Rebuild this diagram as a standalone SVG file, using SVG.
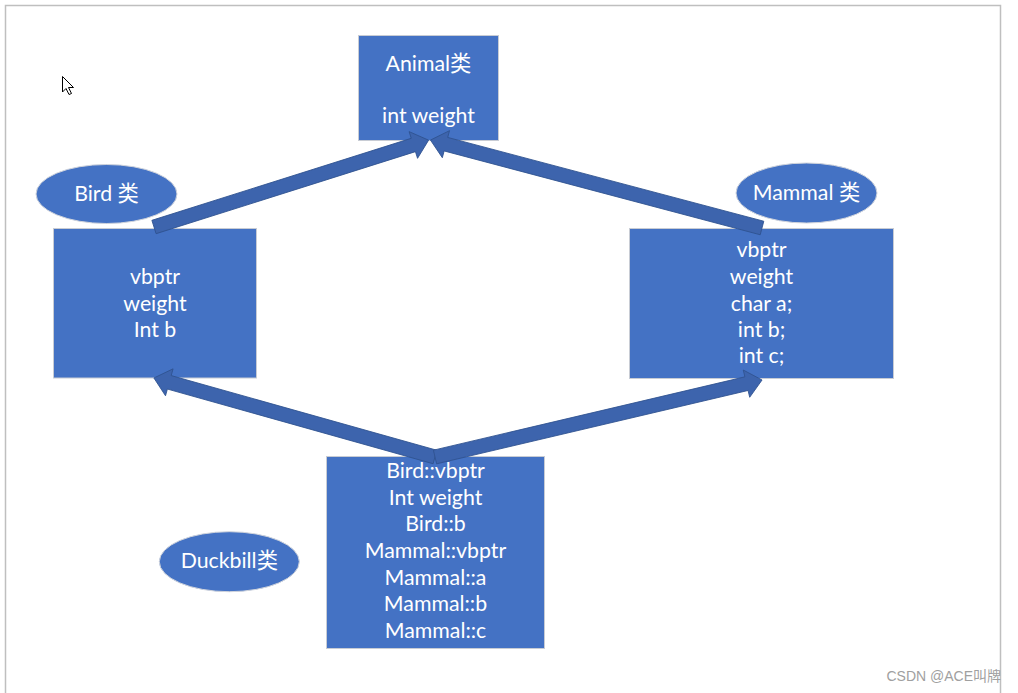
<svg xmlns="http://www.w3.org/2000/svg" width="1018" height="693" viewBox="0 0 1018 693">
<style>
.box{fill:#4472C4;stroke:#C8CCD4;stroke-width:1}
.ell{fill:#4472C4;stroke:#D0D4DC;stroke-width:1}
.t{font-family:Lato,"Noto Sans CJK SC",sans-serif;font-size:21.3px;fill:#FFFFFF;text-anchor:middle}
.arr{fill:#3D64AD;stroke:#2F528F;stroke-width:0.8}
</style>
<rect x="0" y="0" width="1018" height="693" fill="#FFFFFF"/>
<rect x="5.5" y="5.5" width="995" height="700" fill="none" stroke="#BFBFBF" stroke-width="1.5"/>
<g id="animal">
<rect class="box" x="358.5" y="35.5" width="140" height="105"/>
<text class="t" x="428.5" y="71">Animal类</text>
<text class="t" x="428.5" y="123">int weight</text>
</g>
<g id="bird-label">
<ellipse class="ell" cx="106.5" cy="194" rx="70.5" ry="29.5"/>
<text class="t" x="106.5" y="201">Bird 类</text>
</g>
<g id="bird">
<rect class="box" x="53.5" y="228.5" width="203" height="149.5"/>
<text class="t" x="155" y="284">vbptr</text>
<text class="t" x="155" y="310.7">weight</text>
<text class="t" x="155" y="337.4">Int b</text>
</g>
<g id="mammal-label">
<ellipse class="ell" cx="806.5" cy="193" rx="70.5" ry="30"/>
<text class="t" x="806.5" y="200">Mammal 类</text>
</g>
<g id="mammal">
<rect class="box" x="629.5" y="228.5" width="264" height="150"/>
<text class="t" x="761.5" y="257.4">vbptr</text>
<text class="t" x="761.5" y="284">weight</text>
<text class="t" x="761.5" y="310.7">char a;</text>
<text class="t" x="761.5" y="337">int b;</text>
<text class="t" x="761.5" y="363.2">int c;</text>
</g>
<g id="duckbill">
<rect class="box" x="326.5" y="456.5" width="218" height="192"/>
<text class="t" x="435.5" y="478">Bird::vbptr</text>
<text class="t" x="435.5" y="504.7">Int weight</text>
<text class="t" x="435.5" y="531.4">Bird::b</text>
<text class="t" x="435.5" y="558.1">Mammal::vbptr</text>
<text class="t" x="435.5" y="584.7">Mammal::a</text>
<text class="t" x="435.5" y="611.4">Mammal::b</text>
<text class="t" x="435.5" y="638">Mammal::c</text>
</g>
<g id="duckbill-label">
<ellipse class="ell" cx="229.3" cy="561.7" rx="70" ry="30"/>
<text class="t" x="229.3" y="568">Duckbill类</text>
</g>
<g id="connectors">
<polygon class="arr" transform="translate(154,227) rotate(-17.55)" points="0,-7 272,-7 272,-14 288,0 272,14 272,7 0,7"/>
<polygon class="arr" transform="translate(762,228) rotate(-165.15)" points="0,-7 327,-7 327,-14 343,0 327,14 327,7 0,7"/>
<polygon class="arr" transform="translate(435,457) rotate(-164.3)" points="0,-7 276,-7 276,-14 292,0 276,14 276,7 0,7"/>
<polygon class="arr" transform="translate(435,457) rotate(-13.25)" points="0,-7 320,-7 320,-14 336,0 320,14 320,7 0,7"/>
</g>
<polygon points="62.5,76.5 62.5,92 66,88.5 69,94.5 71.5,93.5 68.5,87.5 73.5,87.5" fill="#FFFFFF" stroke="#000000" stroke-width="1"/>
<text x="1001" y="681" text-anchor="end" font-family="'Liberation Sans','Noto Sans CJK SC',sans-serif" font-size="14" fill="#A0A0A0">CSDN @ACE叫牌</text>
</svg>
